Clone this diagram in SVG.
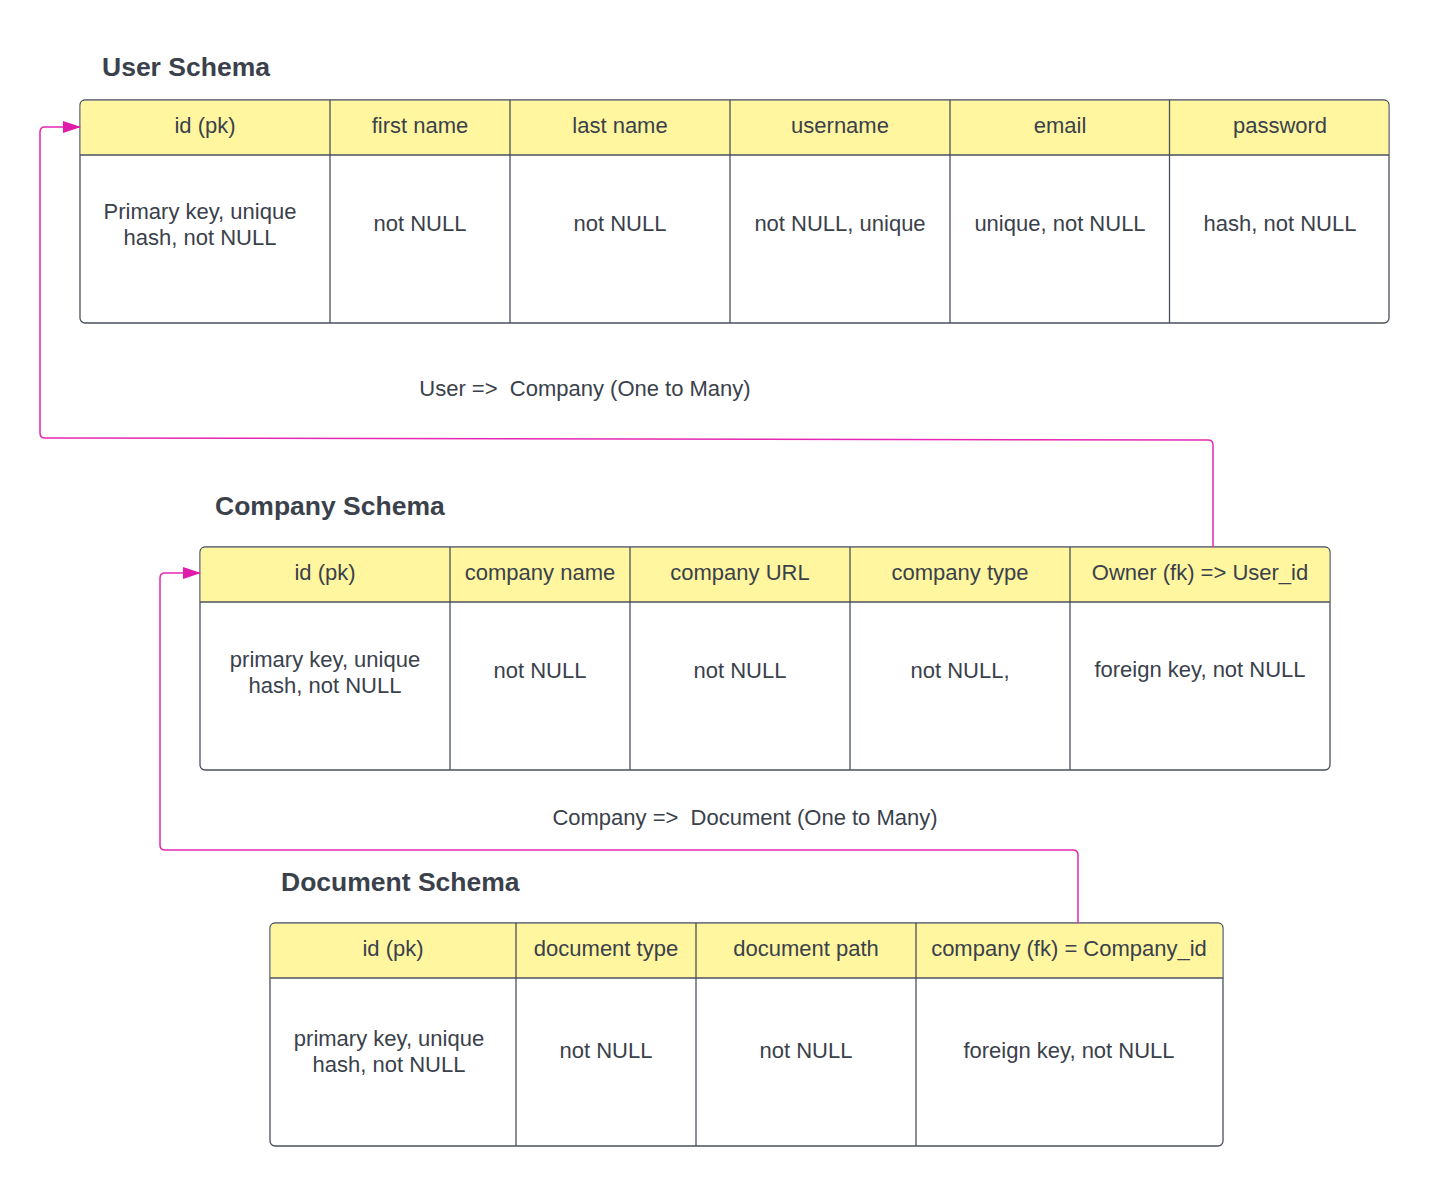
<svg xmlns="http://www.w3.org/2000/svg" width="1430" height="1186" viewBox="0 0 1430 1186">
<style>
  .tbl { fill: #ffffff; stroke: #4a505c; stroke-width: 1.3; }
  .hdr { fill: #fff69f; }
  .ln { stroke: #4a505c; stroke-width: 1.3; fill: none; }
  .t { font-family: "Liberation Sans", Arial, sans-serif; font-size: 22px; fill: #3a414b; text-anchor: middle; }
  .title { font-family: "Liberation Sans", Arial, sans-serif; font-size: 26.5px; font-weight: bold; fill: #3a414b; }
  .lbl { font-family: "Liberation Sans", Arial, sans-serif; font-size: 22px; fill: #3a414b; text-anchor: middle; white-space: pre; }
  .conn { stroke: #e528b3; stroke-width: 1.5; fill: none; }
</style>
<defs>
  <marker id="arr" markerWidth="18" markerHeight="12" refX="17" refY="6" orient="auto" markerUnits="userSpaceOnUse">
    <path d="M0,0 L18,6 L0,12 Z" fill="#e01ba9"/>
  </marker>
</defs>
<rect width="1430" height="1186" fill="#ffffff"/>

<text class="title" x="102" y="76">User Schema</text>
<text class="title" x="215" y="515">Company Schema</text>
<text class="title" x="281" y="891">Document Schema</text>

<g id="user-schema">
  <rect class="tbl" x="80" y="100" width="1309" height="223" rx="5"/>
  <path class="hdr" d="M85,100.7 H1384 Q1388.3,100.7 1388.3,105 V155 H80.7 V105 Q80.7,100.7 85,100.7 Z"/>
  <line class="ln" x1="80" y1="155" x2="1389" y2="155"/>
  <line class="ln" x1="330" y1="100" x2="330" y2="323"/>
  <line class="ln" x1="510" y1="100" x2="510" y2="323"/>
  <line class="ln" x1="730" y1="100" x2="730" y2="323"/>
  <line class="ln" x1="950" y1="100" x2="950" y2="323"/>
  <line class="ln" x1="1169.5" y1="100" x2="1169.5" y2="323"/>
  <text class="t" x="205" y="132.5">id (pk)</text>
  <text class="t" x="420" y="132.5">first name</text>
  <text class="t" x="620" y="132.5">last name</text>
  <text class="t" x="840" y="132.5">username</text>
  <text class="t" x="1060" y="132.5">email</text>
  <text class="t" x="1280" y="132.5">password</text>
  <text class="t" x="200" y="218.5">Primary key, unique</text>
  <text class="t" x="200" y="244.5">hash, not NULL</text>
  <text class="t" x="420" y="230.5">not NULL</text>
  <text class="t" x="620" y="230.5">not NULL</text>
  <text class="t" x="840" y="230.5">not NULL, unique</text>
  <text class="t" x="1060" y="230.5">unique, not NULL</text>
  <text class="t" x="1280" y="230.5">hash, not NULL</text>
</g>

<g id="company-schema">
  <rect class="tbl" x="200" y="547" width="1130" height="223" rx="5"/>
  <path class="hdr" d="M205,547.7 H1325 Q1329.3,547.7 1329.3,552 V602 H200.7 V552 Q200.7,547.7 205,547.7 Z"/>
  <line class="ln" x1="200" y1="602" x2="1330" y2="602"/>
  <line class="ln" x1="450" y1="547" x2="450" y2="770"/>
  <line class="ln" x1="630" y1="547" x2="630" y2="770"/>
  <line class="ln" x1="850" y1="547" x2="850" y2="770"/>
  <line class="ln" x1="1070" y1="547" x2="1070" y2="770"/>
  <text class="t" x="325" y="579.5">id (pk)</text>
  <text class="t" x="540" y="579.5">company name</text>
  <text class="t" x="740" y="579.5">company URL</text>
  <text class="t" x="960" y="579.5">company type</text>
  <text class="t" x="1200" y="579.5">Owner (fk) =&gt; User_id</text>
  <text class="t" x="325" y="666.5">primary key, unique</text>
  <text class="t" x="325" y="692.5">hash, not NULL</text>
  <text class="t" x="540" y="677.5">not NULL</text>
  <text class="t" x="740" y="677.5">not NULL</text>
  <text class="t" x="960" y="677.5">not NULL,</text>
  <text class="t" x="1200" y="676.5">foreign key, not NULL</text>
</g>

<g id="document-schema">
  <rect class="tbl" x="270" y="923" width="953" height="223" rx="5"/>
  <path class="hdr" d="M275,923.7 H1218 Q1222.3,923.7 1222.3,928 V978 H270.7 V928 Q270.7,923.7 275,923.7 Z"/>
  <line class="ln" x1="270" y1="978" x2="1223" y2="978"/>
  <line class="ln" x1="516" y1="923" x2="516" y2="1146"/>
  <line class="ln" x1="696" y1="923" x2="696" y2="1146"/>
  <line class="ln" x1="916" y1="923" x2="916" y2="1146"/>
  <text class="t" x="393" y="955.5">id (pk)</text>
  <text class="t" x="606" y="955.5">document type</text>
  <text class="t" x="806" y="955.5">document path</text>
  <text class="t" x="1069" y="955.5">company (fk) = Company_id</text>
  <text class="t" x="389" y="1045.5">primary key, unique</text>
  <text class="t" x="389" y="1071.5">hash, not NULL</text>
  <text class="t" x="606" y="1057.5">not NULL</text>
  <text class="t" x="806" y="1057.5">not NULL</text>
  <text class="t" x="1069" y="1057.5">foreign key, not NULL</text>
</g>

<g id="connectors">
  <path class="conn" d="M1213,547 V445 Q1213,440 1208,440 L45,438 Q40,438 40,433 V132 Q40,127 45,127 H80" marker-end="url(#arr)"/>
  <path class="conn" d="M1078,923 V855 Q1078,850 1073,850 H165 Q160,850 160,845 V578 Q160,573 165,573 H200" marker-end="url(#arr)"/>
  <text class="lbl" x="585" y="395.5">User =&gt;  Company (One to Many)</text>
  <text class="lbl" x="745" y="824.5">Company =&gt;  Document (One to Many)</text>
</g>
</svg>
